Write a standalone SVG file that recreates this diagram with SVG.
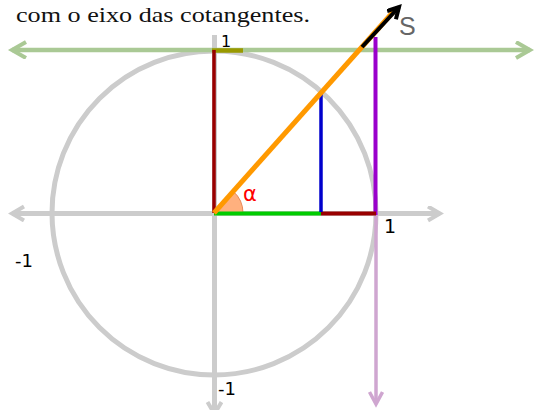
<svg xmlns="http://www.w3.org/2000/svg" width="534" height="410" viewBox="0 0 534 410">
<style>
.lbl{font-family:"DejaVu Sans",sans-serif;fill:#000}
.ln{fill:none;stroke-linecap:butt}
</style>
<defs>
<marker id="aGrey" markerUnits="userSpaceOnUse" markerWidth="30" markerHeight="30" refX="13" refY="8" orient="auto-start-reverse">
<path d="M1,1 L13,8 L1,15" fill="none" stroke="#cccccc" stroke-width="4"/>
</marker>
<marker id="aGreen" markerUnits="userSpaceOnUse" markerWidth="30" markerHeight="30" refX="15" refY="9" orient="auto-start-reverse">
<path d="M1,1 L15,9 L1,17" fill="none" stroke="#aac995" stroke-width="4"/>
</marker>
<marker id="aLilac" markerUnits="userSpaceOnUse" markerWidth="30" markerHeight="30" refX="13" refY="8" orient="auto">
<path d="M1,1.5 L13,8 L1,14.5" fill="none" stroke="#cfa6d0" stroke-width="3.5"/>
</marker>
<marker id="aBlack" markerUnits="userSpaceOnUse" markerWidth="30" markerHeight="30" refX="12" refY="7" orient="auto">
<path d="M1,1 L12,7 L1,13" fill="none" stroke="#000" stroke-width="4"/>
</marker>
</defs>
<rect width="534" height="410" fill="#fff"/>
<text x="16" y="21.5" font-family="'Liberation Serif',serif" font-size="22" textLength="294" lengthAdjust="spacingAndGlyphs" fill="#111">com o eixo das cotangentes.</text>
<g id="circle">
<circle cx="214" cy="213" r="162" fill="none" stroke="#cccccc" stroke-width="5"/>
</g>
<g id="connectors">
<line id="xaxis" class="ln" x1="12" y1="213.5" x2="440" y2="213.5" stroke="#cccccc" stroke-width="5" marker-start="url(#aGrey)" marker-end="url(#aGrey)"/>
<line id="yaxis" class="ln" x1="214.5" y1="35" x2="214.5" y2="414" stroke="#cccccc" stroke-width="5" marker-end="url(#aGrey)"/>
<line id="cotaxis" class="ln" x1="12" y1="50" x2="530" y2="50" stroke="#aac995" stroke-width="4.5" marker-start="url(#aGreen)" marker-end="url(#aGreen)"/>
<line id="tanlow" class="ln" x1="376" y1="213" x2="376" y2="404" stroke="#cfa6d0" stroke-width="3.5" marker-end="url(#aLilac)"/>
<line id="tan" class="ln" x1="375.5" y1="37" x2="375.5" y2="215" stroke="#9a00cc" stroke-width="4"/>
<line id="cotseg" class="ln" x1="212" y1="50.5" x2="243" y2="50.5" stroke="#999900" stroke-width="4.5"/>
<line id="sinproj" class="ln" x1="214" y1="50" x2="214" y2="213" stroke="#990000" stroke-width="3.5"/>
<path id="wedge" d="M214,213 L243,213 A29,29 0 0 0 233.2,191.3 Z" fill="#ffb07e" stroke="#e8895a" stroke-width="1"/>
<line id="cos" class="ln" x1="214" y1="213.5" x2="321" y2="213.5" stroke="#00cc00" stroke-width="4"/>
<line id="rest" class="ln" x1="321" y1="213.5" x2="376" y2="213.5" stroke="#990000" stroke-width="4"/>
<line id="sin" class="ln" x1="321" y1="92" x2="321" y2="212" stroke="#0000cc" stroke-width="3.5"/>
<line id="radius" class="ln" x1="214" y1="213" x2="394" y2="11" stroke="#ff9900" stroke-width="5"/>
<line id="S" class="ln" x1="362" y1="47" x2="399" y2="7" stroke="#000" stroke-width="4" marker-end="url(#aBlack)"/>
</g>
<g id="labels">
<text x="243" y="201" font-family="'DejaVu Sans',sans-serif" font-size="21" fill="#ff0000">α</text>
<text class="lbl" x="221" y="47" font-size="16">1</text>
<text class="lbl" x="384" y="233" font-size="19">1</text>
<text class="lbl" x="15" y="267" font-size="18">-1</text>
<text class="lbl" x="218" y="395" font-size="18">-1</text>
<text x="399" y="35" font-family="'Liberation Sans',sans-serif" font-size="25" fill="#666">S</text>
</g>
</svg>
